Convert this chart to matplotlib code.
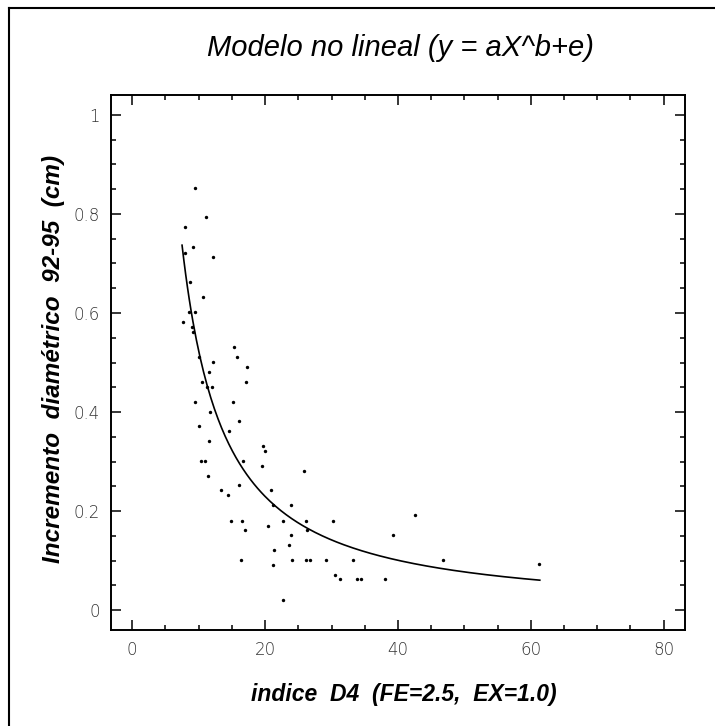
import matplotlib
matplotlib.use("Agg")
import matplotlib.pyplot as plt
import numpy as np
from matplotlib.lines import Line2D
from matplotlib.ticker import MultipleLocator

# indice D4 vs diameter increment 92-95 (cm)
indice_d4 = [9.5, 11.1, 8.0, 9.2, 7.9, 12.1, 8.7, 10.7, 8.5, 9.4, 7.6, 9.0, 9.1,
             10.0, 12.1, 15.3, 15.7, 17.3, 11.6, 10.5, 17.2, 11.2, 12.0, 9.5,
             15.1, 11.7, 16.1, 10.1, 14.5, 11.5, 19.7, 20.0, 10.4, 11.0, 16.6,
             19.6, 25.9, 11.4, 16.1, 13.3, 20.9, 14.4, 21.2, 23.9, 14.9, 16.5,
             22.7, 26.2, 30.2, 17.0, 20.5, 26.3, 23.9, 23.6, 21.3, 16.4, 24.1,
             26.1, 26.8, 29.2, 33.3, 21.2, 30.5, 31.2, 33.8, 34.5, 38.1, 22.7,
             39.3, 42.5, 46.8, 61.3]
incremento = [0.853, 0.793, 0.773, 0.733, 0.722, 0.713, 0.662, 0.632, 0.601,
              0.601, 0.582, 0.572, 0.562, 0.512, 0.502, 0.532, 0.512, 0.491,
              0.481, 0.461, 0.461, 0.451, 0.451, 0.421, 0.421, 0.401, 0.381,
              0.371, 0.361, 0.341, 0.331, 0.322, 0.301, 0.301, 0.301, 0.292,
              0.282, 0.271, 0.252, 0.242, 0.242, 0.232, 0.212, 0.212, 0.181,
              0.181, 0.181, 0.181, 0.181, 0.161, 0.171, 0.161, 0.151, 0.131,
              0.121, 0.101, 0.101, 0.101, 0.101, 0.101, 0.101, 0.091, 0.072,
              0.062, 0.062, 0.062, 0.062, 0.021, 0.152, 0.192, 0.102, 0.093]

y_ticks = [0, 0.2, 0.4, 0.6, 0.8, 1.0]
y_ticklabels = ['0', '0.2', '0.4', '0.6', '0.8', '1']

# fitted model y = a*X^b, drawn over the range of the fit
fit_a = 8.08
fit_b = -1.1885
fit_range = (7.5, 61.35)

fig = plt.figure(figsize=(7.15, 7.26), dpi=100)
ax = fig.add_axes([0.1552, 0.1322, 0.8028, 0.7369])

ax.scatter(indice_d4, incremento, s=6, color='k', linewidths=0, zorder=3)
xs = np.linspace(fit_range[0], fit_range[1], 200)
ax.plot(xs, fit_a * xs ** fit_b, color='k', lw=1.2)

ax.set_xlim(-3.2, 83.2)
ax.set_ylim(-0.04, 1.04)
ax.xaxis.set_major_locator(MultipleLocator(20))
ax.xaxis.set_minor_locator(MultipleLocator(5))
ax.set_yticks(y_ticks)
ax.set_yticklabels(y_ticklabels)
ax.yaxis.set_minor_locator(MultipleLocator(0.05))

for s in ax.spines.values():
    s.set_linewidth(1.4)
ax.tick_params(which='both', direction='in', top=True, right=True, width=1.1,
               labelsize=12, colors='k', labelcolor='#333333')
ax.tick_params(which='major', length=7.2, pad=8)
ax.tick_params(which='minor', length=3.6)
for lab in ax.get_xticklabels() + ax.get_yticklabels():
    lab.set_fontweight('light')

fig.text(0.56, 0.934, 'Modelo no lineal (y = aX^b+e)', ha='center', va='center',
         fontsize=21, style='italic', family='Liberation Sans')
fig.text(0.565, 0.044, 'indice  D4  (FE=2.5,  EX=1.0)', ha='center', va='center',
         fontsize=16.5, style='italic', weight='bold', family='Liberation Sans')
fig.text(0.075, 0.505, 'Incremento  diamétrico  92-95  (cm)', ha='center', va='center',
         rotation=90, fontsize=17.5, style='italic', weight='bold',
         family='Liberation Sans')

# scanned page border (left and top edges)
fig.add_artist(Line2D([0.012, 0.012], [0.989, 0.0], transform=fig.transFigure,
                      color='k', lw=1.5))
fig.add_artist(Line2D([0.012, 1.0], [0.989, 0.989], transform=fig.transFigure,
                      color='k', lw=1.5))

fig.savefig('out.png', dpi=100)
